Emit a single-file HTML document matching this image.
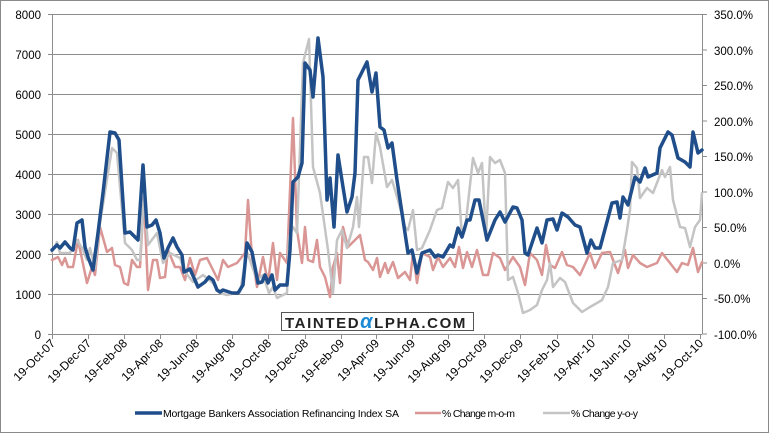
<!DOCTYPE html>
<html><head><meta charset="utf-8"><style>
html,body{margin:0;padding:0;background:#fff;}
svg{display:block;font-family:"Liberation Sans",sans-serif;}
</style></head><body>
<svg width="769" height="433" viewBox="0 0 769 433" xmlns="http://www.w3.org/2000/svg">
<rect x="0.5" y="0.5" width="768" height="432" fill="#fff" stroke="#8a8a8a"/>
<g stroke="#8c8c8c" stroke-width="1">
<line x1="52" y1="14.5" x2="702" y2="14.5"/><line x1="52" y1="54.5" x2="702" y2="54.5"/>
<line x1="52" y1="94.5" x2="702" y2="94.5"/><line x1="52" y1="134.5" x2="702" y2="134.5"/>
<line x1="52" y1="174.5" x2="702" y2="174.5"/><line x1="52" y1="214.5" x2="702" y2="214.5"/>
<line x1="52" y1="254.5" x2="702" y2="254.5"/><line x1="52" y1="294.5" x2="702" y2="294.5"/>
<line x1="52" y1="334.5" x2="702" y2="334.5"/>
<line x1="52.5" y1="14" x2="52.5" y2="334"/><line x1="702.5" y1="14" x2="702.5" y2="334"/>
<line x1="48" y1="14.5" x2="52" y2="14.5"/><line x1="48" y1="54.5" x2="52" y2="54.5"/><line x1="48" y1="94.5" x2="52" y2="94.5"/><line x1="48" y1="134.5" x2="52" y2="134.5"/><line x1="48" y1="174.5" x2="52" y2="174.5"/><line x1="48" y1="214.5" x2="52" y2="214.5"/><line x1="48" y1="254.5" x2="52" y2="254.5"/><line x1="48" y1="294.5" x2="52" y2="294.5"/><line x1="48" y1="334.5" x2="52" y2="334.5"/>
<line x1="702" y1="14.5" x2="707" y2="14.5"/><line x1="702" y1="50" x2="707" y2="50"/><line x1="702" y1="85.5" x2="707" y2="85.5"/><line x1="702" y1="121" x2="707" y2="121"/><line x1="702" y1="156.5" x2="707" y2="156.5"/><line x1="702" y1="192" x2="707" y2="192"/><line x1="702" y1="227.5" x2="707" y2="227.5"/><line x1="702" y1="263" x2="707" y2="263"/><line x1="702" y1="298.5" x2="707" y2="298.5"/><line x1="702" y1="334" x2="707" y2="334"/>
<line x1="52.5" y1="334" x2="52.5" y2="339"/><line x1="88.5" y1="334" x2="88.5" y2="339"/><line x1="124.5" y1="334" x2="124.5" y2="339"/><line x1="160.5" y1="334" x2="160.5" y2="339"/><line x1="196.5" y1="334" x2="196.5" y2="339"/><line x1="232.5" y1="334" x2="232.5" y2="339"/><line x1="268.5" y1="334" x2="268.5" y2="339"/><line x1="305.5" y1="334" x2="305.5" y2="339"/><line x1="341.5" y1="334" x2="341.5" y2="339"/><line x1="376.5" y1="334" x2="376.5" y2="339"/><line x1="412.5" y1="334" x2="412.5" y2="339"/><line x1="448.5" y1="334" x2="448.5" y2="339"/><line x1="484.5" y1="334" x2="484.5" y2="339"/><line x1="520.5" y1="334" x2="520.5" y2="339"/><line x1="557.5" y1="334" x2="557.5" y2="339"/><line x1="592.5" y1="334" x2="592.5" y2="339"/><line x1="628.5" y1="334" x2="628.5" y2="339"/><line x1="664.5" y1="334" x2="664.5" y2="339"/><line x1="700.5" y1="334" x2="700.5" y2="339"/>
</g>
<g font-size="11.5" fill="#000" text-anchor="end">
<text x="41" y="19">8000</text><text x="41" y="59">7000</text><text x="41" y="99">6000</text><text x="41" y="139">5000</text><text x="41" y="179">4000</text><text x="41" y="219">3000</text><text x="41" y="259">2000</text><text x="41" y="299">1000</text><text x="41" y="339">0</text>
</g>
<g font-size="11.5" fill="#000">
<text x="714" y="19">350.0%</text><text x="714" y="55">300.0%</text><text x="714" y="90">250.0%</text><text x="714" y="126">200.0%</text><text x="714" y="161">150.0%</text><text x="714" y="197">100.0%</text><text x="714" y="232">50.0%</text><text x="714" y="268">0.0%</text><text x="714" y="303">-50.0%</text><text x="714" y="339">-100.0%</text>
</g>
<g font-size="12" fill="#000" text-anchor="end">
<text transform="translate(56,344) rotate(-45)">19-Oct-07</text>
<text transform="translate(92,344) rotate(-45)">19-Dec-07</text>
<text transform="translate(128,344) rotate(-45)">19-Feb-08</text>
<text transform="translate(164,344) rotate(-45)">19-Apr-08</text>
<text transform="translate(200,344) rotate(-45)">19-Jun-08</text>
<text transform="translate(236,344) rotate(-45)">19-Aug-08</text>
<text transform="translate(272,344) rotate(-45)">19-Oct-08</text>
<text transform="translate(309,344) rotate(-45)">19-Dec-08</text>
<text transform="translate(345,344) rotate(-45)">19-Feb-09</text>
<text transform="translate(380,344) rotate(-45)">19-Apr-09</text>
<text transform="translate(416,344) rotate(-45)">19-Jun-09</text>
<text transform="translate(452,344) rotate(-45)">19-Aug-09</text>
<text transform="translate(488,344) rotate(-45)">19-Oct-09</text>
<text transform="translate(524,344) rotate(-45)">19-Dec-09</text>
<text transform="translate(561,344) rotate(-45)">19-Feb-10</text>
<text transform="translate(596,344) rotate(-45)">19-Apr-10</text>
<text transform="translate(632,344) rotate(-45)">19-Jun-10</text>
<text transform="translate(668,344) rotate(-45)">19-Aug-10</text>
<text transform="translate(704,344) rotate(-45)">19-Oct-10</text>
</g>
<g fill="none" stroke-linejoin="round" stroke-linecap="round">
<polyline stroke="#d99694" stroke-width="2.5" points="52,260 58,257 62,265 65,258 68,267 73,267 78,240 87,283 92,267 95,275 100,227 107,252 112,248 115,265 120,267 124,283 128,285 132,260 137,267 140,267 144,198 148,290 153,260 157,260 160,278 165,277 168,250 175,267 180,267 185,280 190,258 195,275 200,260 207,258 213,270 218,280 223,260 228,267 237,263 245,253 248,200 252,257 257,287 263,257 268,283 273,243 277,280 280,253 287,263 293,118 297,230 302,263 305,227 308,260 313,262 317,240 320,267 325,277 330,297 333,267 337,253 340,283 343,227 348,247 360,235 365,260 368,262 373,270 377,258 380,277 385,263 388,273 393,262 398,278 405,272 410,280 413,253 417,283 422,253 430,257 433,270 438,257 443,267 450,258 455,267 459,247 463,268 467,252 472,267 477,250 483,275 488,275 493,253 500,258 505,270 513,257 520,267 525,285 530,253 537,260 542,275 546,245 550,265 555,268 562,252 567,265 573,267 580,275 590,253 595,268 602,253 610,252 618,273 625,250 628,268 633,255 640,263 647,267 657,263 662,253 670,263 677,272 682,263 688,265 693,248 698,272 702,262"/>
<polyline stroke="#c4c4c4" stroke-width="2.5" points="52,252 57,242 60,253 70,253 77,240 82,248 87,260 90,248 95,268 100,223 112,148 117,153 125,243 132,250 137,260 140,260 144,197 148,245 157,233 163,263 170,253 180,258 185,272 193,282 203,275 213,283 220,293 227,295 240,292 247,252 257,280 263,275 269,293 273,287 277,298 287,293 289,237 293,227 297,233 303,63 309,39 313,167 320,193 328,250 333,293 337,240 342,230 347,248 353,227 357,197 359,227 364,157 368,157 372,183 376,133 380,147 387,187 392,180 398,200 405,227 408,230 413,210 417,250 422,248 430,230 437,210 442,208 448,182 453,188 458,180 462,237 465,230 473,158 478,173 482,163 486,237 490,157 495,163 500,160 505,173 508,280 513,277 518,293 523,313 530,310 537,305 542,290 547,280 550,263 553,287 560,278 565,282 573,303 582,312 590,307 597,303 602,300 608,287 613,263 622,260 627,230 630,210 632,162 637,168 640,198 647,188 653,193 662,170 665,177 670,167 673,200 680,227 685,228 690,247 695,227 700,220 702,193"/>
<polyline stroke="#1f4e8a" stroke-width="3.5" points="52,250 57,245 60,248 65,242 70,248 73,250 77,223 82,220 85,247 88,257 93,270 98,233 103,193 110,132 115,133 119,140 125,233 130,232 138,240 143,165 147,227 152,225 156,220 160,233 164,258 168,248 173,238 177,247 182,255 184,272 190,269 198,287 205,282 209,277 213,280 217,290 220,292 223,290 232,293 238,293 243,285 247,243 252,252 258,283 262,282 265,275 268,283 272,275 275,290 280,285 287,285 290,250 293,182 298,177 302,163 305,63 310,70 313,97 318,38 323,77 327,200 330,178 334,227 338,155 343,187 347,212 352,197 355,173 358,80 367,62 372,92 376,73 380,127 384,130 388,148 392,143 397,180 402,213 408,253 412,250 417,273 422,253 430,250 435,257 438,255 443,257 450,245 453,247 458,228 462,237 467,220 470,220 475,200 479,200 487,240 495,220 500,212 505,222 513,207 517,208 522,220 525,253 528,255 537,228 542,243 547,220 553,219 557,230 562,213 568,217 575,225 580,227 587,253 591,240 595,248 600,248 612,203 617,202 620,218 623,197 628,205 635,177 640,182 645,168 648,177 657,173 660,148 668,132 672,135 678,158 685,162 690,167 693,132 698,153 702,150"/>
</g>
<rect x="281.5" y="312.5" width="192" height="18" fill="#fff" stroke="#555"/>
<text x="285" y="328" font-size="15" font-weight="bold" fill="#222" letter-spacing="1.6" textLength="182" lengthAdjust="spacing">TAINTED<tspan fill="#1e8ad6" font-size="20" font-style="italic">α</tspan>LPHA.COM</text>
<g font-size="10.5" fill="#000">
<line x1="135" y1="413" x2="162" y2="413" stroke="#1f4e8a" stroke-width="3.5"/>
<text x="163" y="417" textLength="236" lengthAdjust="spacing">Mortgage Bankers Association Refinancing Index SA</text>
<line x1="415" y1="413" x2="441" y2="413" stroke="#d99694" stroke-width="2.5"/>
<text x="442" y="417" textLength="73" lengthAdjust="spacing">% Change m-o-m</text>
<line x1="543" y1="413" x2="570" y2="413" stroke="#c4c4c4" stroke-width="2.5"/>
<text x="571" y="417" textLength="67" lengthAdjust="spacing">% Change y-o-y</text>
</g>
</svg>
</body></html>
